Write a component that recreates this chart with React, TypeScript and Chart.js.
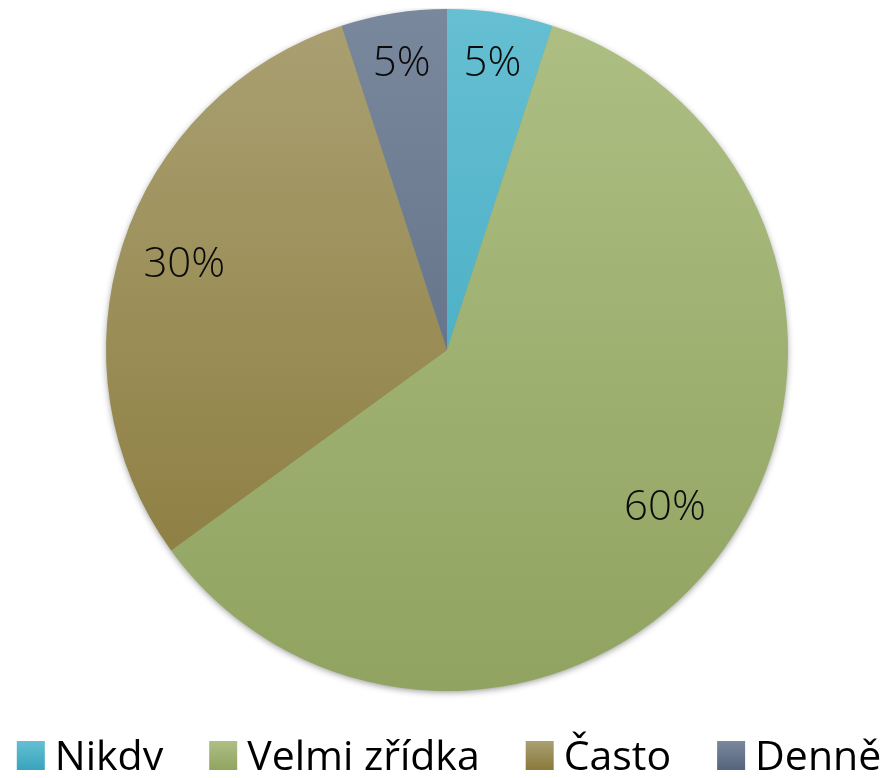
import React, { useEffect, useRef } from "react";
import { Chart, registerables } from "chart.js";
Chart.register(...registerables);

const categories = ["Nikdy", "Velmi zřídka", "Často", "Denně"];
const values = [5, 60, 30, 5];
const valueLabels = ["5%", "60%", "30%", "5%"];
const topColors = ["#66bfd3", "#adbf83", "#aaa072", "#7a889e"];
const bottomColors = ["#36a3bb", "#90a360", "#887838", "#55637a"];
const labelRadius = [0.85, 0.79, 0.81, 0.85];

const FONT = '"Open Sans", sans-serif';

function grad(ctx: CanvasRenderingContext2D, y0: number, y1: number, i: number) {
  const g = ctx.createLinearGradient(0, y0, 0, y1);
  g.addColorStop(0, topColors[i]);
  g.addColorStop(1, bottomColors[i]);
  return g;
}

const shadowPlugin = {
  id: "pieShadow",
  beforeDatasetsDraw(chart: any) {
    const arc = chart.getDatasetMeta(0).data[0];
    if (!arc) return;
    const { x, y, outerRadius } = arc.getProps(["x", "y", "outerRadius"], true);
    const ctx = chart.ctx;
    ctx.save();
    ctx.shadowColor = "rgba(0,0,0,0.45)";
    ctx.shadowBlur = 7;
    ctx.shadowOffsetX = 0;
    ctx.shadowOffsetY = 2;
    ctx.fillStyle = "#8a9a6a";
    ctx.beginPath();
    ctx.arc(x, y, outerRadius - 1, 0, Math.PI * 2);
    ctx.fill();
    ctx.restore();
  },
};

const labelPlugin = {
  id: "sliceLabels",
  afterDatasetsDraw(chart: any) {
    const ctx = chart.ctx;
    const meta = chart.getDatasetMeta(0);
    ctx.save();
    ctx.font = `300 42px ${FONT}`;
    ctx.fillStyle = "#0a0a0a";
    ctx.textAlign = "center";
    ctx.textBaseline = "middle";
    meta.data.forEach((arc: any, i: number) => {
      const p = arc.getProps(["x", "y", "startAngle", "endAngle", "outerRadius"], true);
      const mid = (p.startAngle + p.endAngle) / 2;
      const r = p.outerRadius * labelRadius[i];
      ctx.fillText(valueLabels[i], p.x + Math.cos(mid) * r, p.y + Math.sin(mid) * r);
    });
    ctx.restore();
  },
};

const legendPlugin = {
  id: "customLegend",
  afterDraw(chart: any) {
    const ctx = chart.ctx;
    const boxW = 28;
    const boxH = 30;
    const gap = 10;
    const spacing = 46;
    ctx.save();
    ctx.font = `41px ${FONT}`;
    const widths = categories.map((c) => ctx.measureText(c).width);
    const total = widths.reduce((a, w) => a + boxW + gap + w, 0) + spacing * (categories.length - 1);
    let x = (chart.width - total) / 2 + 2;
    const boxTop = 733;
    const baseline = 762;
    categories.forEach((c, i) => {
      ctx.fillStyle = grad(ctx, boxTop, boxTop + boxH, i);
      ctx.fillRect(x, boxTop, boxW, boxH);
      x += boxW + gap;
      ctx.fillStyle = "#000000";
      ctx.textBaseline = "alphabetic";
      ctx.textAlign = "left";
      ctx.fillText(c, x, baseline);
      x += widths[i] + spacing;
    });
    ctx.restore();
  },
};

export default function App() {
  const ref = useRef<HTMLCanvasElement | null>(null);
  useEffect(() => {
    if (!ref.current) return;
    const chart = new Chart(ref.current, {
      type: "pie",
      data: {
        labels: categories,
        datasets: [
          {
            data: values,
            borderWidth: 0,
            backgroundColor: (c: any) => {
              const area = c.chart.chartArea;
              if (!area) return topColors[c.dataIndex];
              return grad(c.chart.ctx, area.top, area.bottom, c.dataIndex);
            },
          },
        ],
      },
      options: {
        animation: false,
        responsive: true,
        maintainAspectRatio: false,
        events: [],
        layout: { padding: { top: 1, bottom: 79, left: 0, right: 0 } },
        plugins: {
          legend: { display: false },
          tooltip: { enabled: false },
        },
      },
      plugins: [shadowPlugin, labelPlugin, legendPlugin],
    });
    return () => chart.destroy();
  }, []);
  return (
    <div style={{ width: 878, height: 762, position: "relative" }}>
      <canvas ref={ref} />
    </div>
  );
}
